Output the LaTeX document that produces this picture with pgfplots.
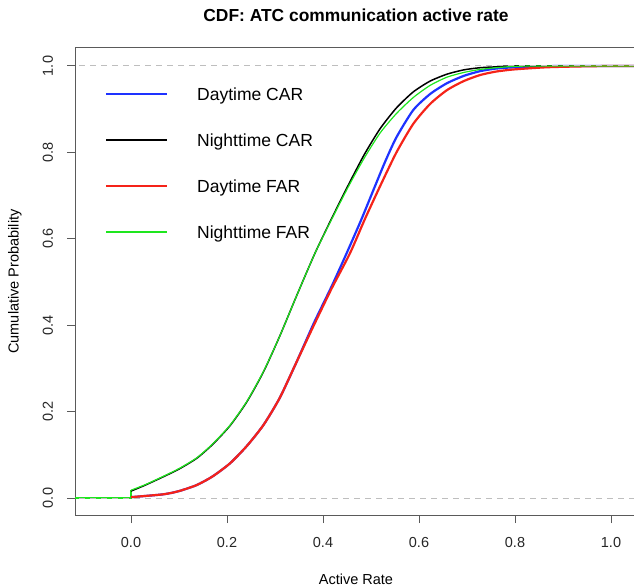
\documentclass[border=0pt]{standalone}
\usepackage{pgfplots}
\pgfplotsset{compat=1.18}
\usepackage{fontspec}
\setmainfont{Liberation Sans}
\definecolor{cblue}{RGB}{30,50,255}
\definecolor{cred}{RGB}{245,35,25}
\definecolor{cgreen}{RGB}{30,230,30}
\definecolor{cdash}{RGB}{190,190,190}
\definecolor{caxis}{RGB}{90,90,90}
\begin{document}
\begin{tikzpicture}[x=1pt,y=1pt]
\path[use as bounding box] (0,0) rectangle (634,587);
\begin{axis}[
  at={(75pt,72pt)}, anchor=south west,
  scale only axis, width=562pt, height=467pt,
  xmin=-0.11667, xmax=1.05417, ymin=-0.03935, ymax=1.04167,
  axis line style={caxis, line width=1pt},
  every tick/.style={caxis, line width=1pt},
  tick align=outside, major tick length=8pt,
  xtick pos=left, ytick pos=left,
  xtick={0,0.2,0.4,0.6,0.8,1.0}, xticklabels={0.0,0.2,0.4,0.6,0.8,1.0},
  ytick={0,0.2,0.4,0.6,0.8,1.0}, yticklabels={0.0,0.2,0.4,0.6,0.8,1.0},
  every tick label/.append style={font=\fontsize{14.5}{17}\selectfont, text=black!85},
  xticklabel style={anchor=center},
  xticklabel shift=20pt,
  yticklabel style={anchor=center, rotate=90},
  yticklabel shift=19pt,
  title={CDF: ATC communication active rate},
  title style={at={(axis description cs:0.5,1.057)}, anchor=center, font=\fontsize{17.4}{20}\bfseries\selectfont},
  xlabel={Active Rate},
  xlabel style={at={(axis description cs:0.5,-0.137)}, anchor=center, font=\fontsize{14.5}{17}\selectfont},
  ylabel={Cumulative Probability},
  ylabel style={at={(axis description cs:-0.1068,0.5)}, anchor=center, rotate=0, font=\fontsize{14.5}{17}\selectfont},
  legend cell align=left,
  legend image code/.code={\draw[#1] (0pt,6.3pt) -- (61pt,6.3pt);},
  legend style={draw=none, fill=none, at={(axis description cs:0.0534,0.915)}, anchor=north west,
    inner sep=0pt, outer sep=0pt, row sep=33.4pt, column sep=29pt,
    font=\fontsize{17.5}{21}\selectfont,
    nodes={inner sep=0pt, outer sep=0pt, text height=12.6pt, text depth=0pt, anchor=base west}},
]
% flat parts left of zero
\addplot[cblue, line width=2.2pt, forget plot] coordinates {(-0.2,0)(0,0)(0,0.002)};
\addplot[black, line width=1.5pt, forget plot] coordinates {(-0.2,0)(0,0)(0,0.016)};
\addplot[cred, line width=2.2pt, forget plot] coordinates {(-0.2,0)(0,0)(0,0.002)};
\addplot[cgreen, line width=1.2pt, forget plot] coordinates {(-0.2,0)(0,0)(0,0.018)};
\addplot[cblue, line width=2.2pt, smooth, tension=0.4] coordinates {
(0,0.002)(0.067,0.0085)(0.1,0.016)(0.137,0.030)(0.17,0.05)(0.206,0.080)(0.241,0.12)(0.276,0.169)(0.31,0.232)(0.345,0.315)(0.381,0.405)(0.418,0.49)(0.449,0.566)(0.48,0.645)(0.508,0.721)(0.53,0.78)(0.553,0.835)(0.588,0.898)(0.623,0.935)(0.658,0.96)(0.693,0.977)(0.727,0.988)(0.76,0.994)(0.797,0.997)(0.85,0.999)(0.9,1)(1.1,1)};
\addlegendentry{Daytime CAR}
\addplot[black, line width=1.5pt, smooth, tension=0.4] coordinates {
(0,0.016)(0.03,0.03)(0.067,0.049)(0.1,0.067)(0.137,0.092)(0.17,0.124)(0.206,0.167)(0.241,0.222)(0.276,0.292)(0.31,0.375)(0.345,0.468)(0.383,0.566)(0.418,0.647)(0.453,0.725)(0.486,0.795)(0.519,0.855)(0.553,0.903)(0.588,0.94)(0.623,0.965)(0.658,0.981)(0.693,0.991)(0.727,0.996)(0.76,0.998)(0.8,1)(1.1,1)};
\addlegendentry{Nighttime CAR}
\addplot[cred, line width=2.2pt, smooth, tension=0.4] coordinates {
(0,0.002)(0.067,0.0085)(0.1,0.016)(0.137,0.030)(0.17,0.05)(0.206,0.080)(0.241,0.12)(0.276,0.169)(0.31,0.232)(0.345,0.315)(0.381,0.40)(0.418,0.485)(0.456,0.566)(0.487,0.645)(0.519,0.722)(0.553,0.8)(0.588,0.866)(0.623,0.912)(0.658,0.944)(0.693,0.965)(0.727,0.979)(0.76,0.987)(0.797,0.992)(0.865,0.997)(0.935,0.999)(1.0,1)(1.1,1)};
\addlegendentry{Daytime FAR}
\addplot[cgreen, line width=1.2pt, smooth, tension=0.4] coordinates {
(0,0.018)(0.03,0.031)(0.067,0.05)(0.1,0.068)(0.137,0.093)(0.17,0.125)(0.206,0.168)(0.241,0.223)(0.276,0.293)(0.31,0.375)(0.345,0.468)(0.383,0.566)(0.418,0.645)(0.453,0.721)(0.486,0.787)(0.519,0.845)(0.553,0.89)(0.588,0.927)(0.623,0.955)(0.658,0.974)(0.693,0.985)(0.727,0.992)(0.76,0.996)(0.797,0.999)(0.85,1)(1.1,1)};
\addlegendentry{Nighttime FAR}
\addplot[cdash, line width=1pt, dash pattern=on 6pt off 5pt, forget plot] coordinates {(-0.2,0)(1.1,0)};
\addplot[cdash, line width=1pt, dash pattern=on 6pt off 5pt, forget plot] coordinates {(-0.2,1)(1.1,1)};
\end{axis}
\end{tikzpicture}
\end{document}
